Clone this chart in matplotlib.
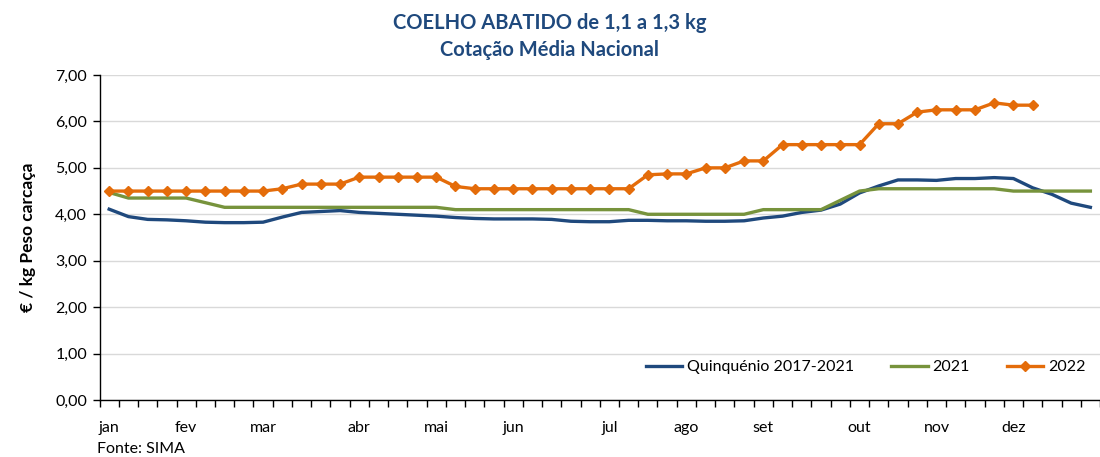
import numpy as np
import matplotlib
matplotlib.use("Agg")
import matplotlib.pyplot as plt
from matplotlib.ticker import FuncFormatter

plt.rcParams['font.family'] = ['Lato', 'DejaVu Sans']

# 52 semanas
semanas = np.arange(52)
meses = ['jan', 'fev', 'mar', 'abr', 'mai', 'jun', 'jul', 'ago', 'set', 'out', 'nov', 'dez']
semana_mes = [0, 4, 8, 13, 17, 21, 26, 30, 34, 39, 43, 47]

quinquenio = [4.11, 3.95, 3.89, 3.88, 3.86, 3.83, 3.82, 3.82, 3.83, 3.94,
              4.04, 4.06, 4.08, 4.04, 4.02, 4.00, 3.98, 3.96, 3.93, 3.91,
              3.90, 3.90, 3.90, 3.89, 3.85, 3.84, 3.84, 3.87, 3.87, 3.86,
              3.86, 3.85, 3.85, 3.86, 3.92, 3.96, 4.04, 4.09, 4.22, 4.46,
              4.61, 4.74, 4.74, 4.73, 4.77, 4.77, 4.79, 4.77, 4.57, 4.43,
              4.24, 4.15]

ano_2021 = [4.47, 4.35, 4.35, 4.35, 4.35, 4.25, 4.15, 4.15, 4.15, 4.15,
            4.15, 4.15, 4.15, 4.15, 4.15, 4.15, 4.15, 4.15, 4.10, 4.10,
            4.10, 4.10, 4.10, 4.10, 4.10, 4.10, 4.10, 4.10, 4.00, 4.00,
            4.00, 4.00, 4.00, 4.00, 4.10, 4.10, 4.10, 4.10, 4.30, 4.50,
            4.55, 4.55, 4.55, 4.55, 4.55, 4.55, 4.55, 4.50, 4.50, 4.50,
            4.50, 4.50]

ano_2022 = [4.50, 4.50, 4.50, 4.50, 4.50, 4.50, 4.50, 4.50, 4.50, 4.55,
            4.65, 4.65, 4.65, 4.80, 4.80, 4.80, 4.80, 4.80, 4.60, 4.55,
            4.55, 4.55, 4.55, 4.55, 4.55, 4.55, 4.55, 4.55, 4.85, 4.87,
            4.87, 5.00, 5.00, 5.15, 5.15, 5.50, 5.50, 5.50, 5.50, 5.50,
            5.95, 5.95, 6.20, 6.25, 6.25, 6.25, 6.40, 6.35, 6.35]

azul = '#1F497D'
verde = '#77933C'
laranja = '#E46C0A'

fig = plt.figure(figsize=(11, 4.57), dpi=100)
ax = fig.add_axes([0.0905, 0.1247, 0.9095, 0.7112])

ax.plot(semanas, quinquenio, color=azul, linewidth=2.4, label='Quinquénio 2017-2021')
ax.plot(semanas, ano_2021, color=verde, linewidth=2.4, label='2021')
ax.plot(np.arange(len(ano_2022)), ano_2022, color=laranja, linewidth=2.4,
        marker='D', markersize=5.5, label='2022')

ax.set_ylim(0, 7)
ax.set_xlim(-0.5, 50.97)
ax.set_yticks(np.arange(0, 7.01, 1))
ax.yaxis.set_major_formatter(FuncFormatter(lambda v, p: f"{v:.2f}".replace('.', ',')))
ax.grid(axis='y', color='#d9d9d9', linewidth=1)
ax.set_axisbelow(True)

# ticks nas fronteiras das semanas, rótulos no centro
ax.set_xticks(np.arange(-0.5, 52, 1))
ax.set_xticklabels([])
ax.set_xticks(semana_mes, minor=True)
ax.set_xticklabels(meses, minor=True)
ax.tick_params(axis='x', which='major', length=5, width=1, direction='out')
ax.tick_params(axis='x', which='minor', length=0, pad=15, labelsize=11.5)
ax.tick_params(axis='y', length=5, width=1, labelsize=11.5, pad=4)

for s in ['top', 'right']:
    ax.spines[s].set_visible(False)
ax.spines['left'].set_linewidth(1)
ax.spines['bottom'].set_linewidth(1)

ax.set_ylabel('€ / kg Peso carcaça', fontsize=12.5, fontweight='bold', labelpad=14)

fig.text(0.5, 0.950, 'COELHO ABATIDO de 1,1 a 1,3 kg', ha='center', va='center',
         fontsize=14.5, fontweight='bold', color=azul)
fig.text(0.5, 0.890, 'Cotação Média Nacional', ha='center', va='center',
         fontsize=14.5, fontweight='bold', color=azul)
fig.text(0.088, 0.003, 'Fonte: SIMA', ha='left', va='bottom', fontsize=11.5)

ax.legend(loc='lower right', bbox_to_anchor=(1.0, 0.035), ncol=3, frameon=False,
          fontsize=11.5, handlelength=2.3, columnspacing=2.3, handletextpad=0.3)

fig.savefig('out.png', dpi=100)
